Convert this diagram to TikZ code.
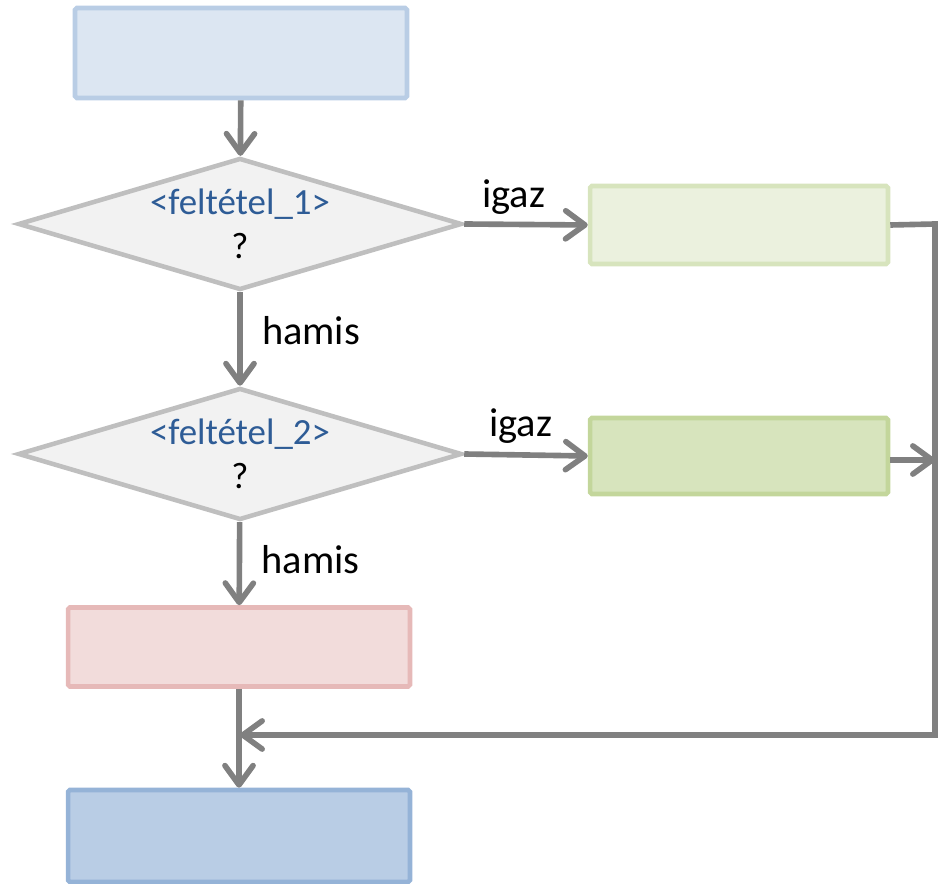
\documentclass[tikz,border=0pt]{standalone}
\usepackage{fontspec}
\setmainfont{Carlito}
\usetikzlibrary{shapes.geometric,arrows.meta}

\definecolor{startfill}{HTML}{DCE6F2}
\definecolor{startline}{HTML}{B9CDE5}
\definecolor{condfill}{HTML}{F2F2F2}
\definecolor{condline}{HTML}{BFBFBF}
\definecolor{yesAfill}{HTML}{EBF1DE}
\definecolor{yesAline}{HTML}{D7E4BD}
\definecolor{yesBfill}{HTML}{D7E4BD}
\definecolor{yesBline}{HTML}{C3D69B}
\definecolor{elsefill}{HTML}{F2DCDB}
\definecolor{elseline}{HTML}{E6B9B8}
\definecolor{endfill}{HTML}{B9CDE5}
\definecolor{endline}{HTML}{95B3D7}
\definecolor{condtext}{HTML}{2E5C96}
\definecolor{flow}{HTML}{808080}

\tikzset{
  block/.style={draw, line width=2.6pt, rounded corners=1pt, inner sep=0pt},
  cond/.style={diamond, aspect=3.36, draw=condline, fill=condfill, line width=2.6pt, inner sep=0pt,
    minimum width=8.88cm, minimum height=2.64cm, align=center,
    font=\fontsize{21}{23}\selectfont},
  lbl/.style={font=\fontsize{23}{27}\selectfont, inner sep=0pt},
  flowline/.style={draw=flow, line width=3.2pt, ->}
}

\begin{document}
\begin{tikzpicture}[x=0.02cm, y=-0.02cm,
  >={Straight Barb[length=11pt, width=16pt, line cap=round, round]}]
		\useasboundingbox (0,0) rectangle (940,884);
		% boxes
		\node[block, draw=startline, fill=startfill, minimum width=6.64cm, minimum height=1.8cm] (start) at (241,53) {};
		\node[cond] (if1) at (240,224) {\textcolor{condtext}{<feltétel\_1>}\\[2pt]?};
		\node[block, draw=yesAline, fill=yesAfill, minimum width=5.96cm, minimum height=1.56cm] (yes1) at (739,225) {};
		\node[cond] (if2) at (240,454) {\textcolor{condtext}{<feltétel\_2>}\\[2pt]?};
		\node[block, draw=yesBline, fill=yesBfill, minimum width=5.96cm, minimum height=1.52cm] (yes2) at (739,456) {};
		\node[block, draw=elseline, fill=elsefill, minimum width=6.84cm, minimum height=1.58cm] (other) at (239,647) {};
		\node[block, draw=endline, fill=endfill, minimum width=6.84cm, minimum height=1.84cm] (stop) at (239,836) {};
		\coordinate (rtop) at (935,224);
		\coordinate (rmid) at (935,460);
		\coordinate (rbot) at (935,735);
		\coordinate (join) at (240,735);
		% connectors
		\draw[flowline] (start) -- (if1);
		\draw[flowline] (if1.east) -- (yes1.west) node[lbl, midway, above=4pt, xshift=-7pt] {igaz};
		\draw[flowline] (if1) -- (if2) node[lbl, midway, right=11pt, yshift=5pt] {hamis};
		\draw[flowline] (if2.east) -- (yes2.west) node[lbl, midway, above=5pt, xshift=-3pt] {igaz};
		\draw[flowline] (if2) -- (other) node[lbl, midway, right=11pt, yshift=2.5pt] {hamis};
		\draw[flowline, -] (yes1.east) -- (rtop) -- (rbot) -- (join);
		\draw[flowline] (rbot) -- (join);
		\draw[flowline] (yes2.east |- rmid) -- (rmid);
		\draw[flowline] (other) -- (stop);
		
		\end{tikzpicture}
\end{document}
